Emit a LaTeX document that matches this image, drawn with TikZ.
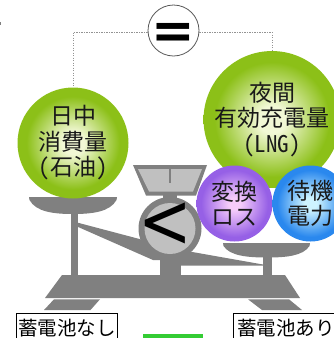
\documentclass[tikz,border=0pt]{standalone}
\usepackage{fontspec}
\newfontfamily\jp{Noto Sans CJK JP}
\newfontfamily\jphalf[CharacterWidth=Half]{Noto Sans CJK JP}
\newfontfamily\sym{DejaVu Sans}

\definecolor{scalegray}{RGB}{128,128,128}
\definecolor{facegray}{RGB}{192,192,192}
\definecolor{limeedge}{RGB}{140,192,24}
\definecolor{limecore}{RGB}{242,248,214}
\definecolor{violetedge}{RGB}{150,96,230}
\definecolor{violetcore}{RGB}{246,204,250}
\definecolor{azureedge}{RGB}{42,136,238}
\definecolor{azurecore}{RGB}{206,244,255}
\definecolor{barsgreen}{RGB}{52,204,52}

\pgfdeclareradialshading{limeglow}{\pgfpoint{0bp}{0bp}}{color(0bp)=(limecore); color(5bp)=(limecore); color(21bp)=(limeedge); color(25bp)=(limeedge); color(50bp)=(limeedge)}
\pgfdeclareradialshading{violetglow}{\pgfpoint{0bp}{0bp}}{color(0bp)=(violetcore); color(4bp)=(violetcore); color(22bp)=(violetedge); color(25bp)=(violetedge); color(50bp)=(violetedge)}
\pgfdeclareradialshading{azureglow}{\pgfpoint{0bp}{0bp}}{color(0bp)=(azurecore); color(4bp)=(azurecore); color(22bp)=(azureedge); color(25bp)=(azureedge); color(50bp)=(azureedge)}

\begin{document}
\begin{tikzpicture}[x=1pt,y=-1pt,
  metal/.style={fill=scalegray, draw=none},
  face/.style={fill=facegray, draw=none},
  ball/.style={circle, inner sep=0pt, align=center, text=black!90,
    font=\jp\fontsize{23}{25.5}\selectfont},
  bigball/.style={ball, minimum size=111pt},
  smallball/.style={ball, minimum size=76pt},
  tag/.style={draw=black, line width=0.8pt, inner xsep=1pt, inner ysep=0pt,
    minimum height=30pt, anchor=north west, font=\jp\fontsize{19.5}{20}\selectfont},
  tie/.style={draw=gray!85, line width=0.6pt, dash pattern=on 1.2pt off 1.3pt},
]
\useasboundingbox (0,0) rectangle (334,338);
\clip (0,0) rectangle (334,338);

% stray mark at the left edge
\fill[gray] (0,22) rectangle (1.2,24.5);

% beam arms
\fill[metal] (77,222.5) -- (166,246) -- (166,260) -- (153,260) -- (77,226.5) -- cycle;
\fill[metal] (181,250) -- (263,264.5) -- (263,265.5) -- (181,265.5) -- cycle;
% posts
\fill[metal] (71,205) rectangle (77.5,276);
\fill[metal] (160,250) rectangle (181,276);
\fill[metal] (263,250) rectangle (271.5,276);
% base and feet
\fill[metal] (62,275) -- (285,275) -- (300,298) -- (45,298) -- cycle;
\fill[metal] (54,299.3) -- (100,299.3) -- (90.5,310) -- (44,310) -- cycle;
\fill[metal] (248,299.3) -- (289,299.3) -- (302,310) -- (262,310) -- cycle;
% pans
\fill[metal] (29,197) -- (117,197) -- (116.5,200) .. controls (110,212) and (92,214) .. (73,214)
  .. controls (54,214) and (36,212) .. (29.5,200) -- cycle;
\fill[metal] (223,243) -- (310,243) -- (309.5,246) .. controls (303,256) and (286,257.5) .. (267,257.5)
  .. controls (248,257.5) and (230,256) .. (223.5,246) -- cycle;
% meter on top of the dial
\fill[metal] (133,165) -- (207,165) -- (196,195.5) -- (146,195.5) -- cycle;
\fill[face] (138,169) -- (202,169) -- (193,191.5) -- (149,191.5) -- cycle;
\draw[scalegray, line width=2.5pt] (170,169) -- (170,183);
\fill[metal] (163,194) rectangle (177,200);
% dial
\fill[metal] (170,228.5) circle[radius=31.5];
\node[circle, fill=facegray, minimum size=51pt, inner sep=0pt] (dial) at (170,228.5) {};
\node[inner sep=0pt, font=\sym\fontsize{64}{64}\selectfont] (less) at (165.5,225) {\scalebox{1}[1.2]{<}};

% weights
\node[bigball, shading=limeglow] (day) at (73,143) {日中\\消費量\\{\jphalf(}石油{\jphalf)}};
\node[bigball, shading=limeglow] (night) at (272,119.5) {夜間\\有効充電量\\{\jphalf(LNG)}};
\node[smallball, shading=violetglow] (loss) at (234.5,203.5) {変換\\ロス};
\node[smallball, shading=azureglow] (standby) at (310.5,203.5) {待機\\電力};

% equality disc and its ties
\node[circle, draw=black!65, line width=0.8pt, fill=white, minimum size=51pt, inner sep=0pt] (eq) at (173.5,30.5) {};
\node[inner sep=0pt, font=\sym\fontsize{52}{52}\selectfont] (eqsign) at (eq.center) [yshift=-5pt] {\bfseries =};
\draw[tie] (eq.184) -| (day.north);
\draw[tie] (eq.-4) -| (night.north);

% captions
\node[tag, minimum width=101pt] (without) at (16,313) {蓄電池なし};
\node[tag, minimum width=105pt] (with) at (233,313) {蓄電池あり};

% bar peeking in at the bottom
\fill[barsgreen] (143,334) rectangle (203,340);
\end{tikzpicture}
\end{document}
